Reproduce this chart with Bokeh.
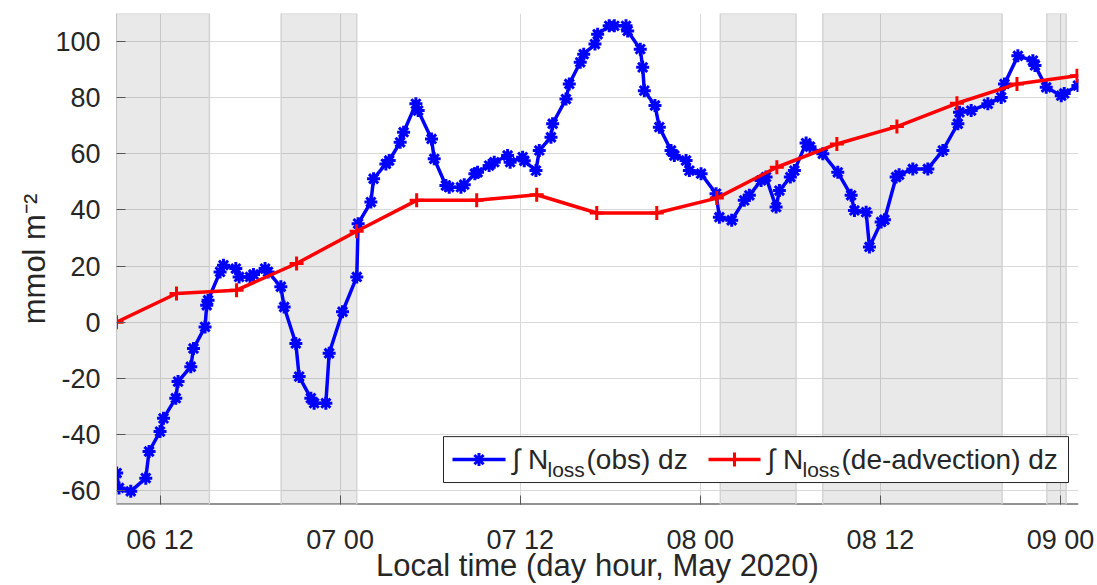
from bokeh.plotting import figure
from bokeh.models import Range1d, FixedTicker, Label
from bokeh.embed import file_html
from bokeh.resources import INLINE

# ---------------- data (hours since 06 May 2020 00:00 local) ----------------
obs_hours = [9.11, 9.27, 10.05, 11.05, 11.27, 12.0, 12.23, 13.05, 13.2, 14.05, 14.23, 15.0, 15.11, 15.2,
             16.0, 16.23, 17.05, 17.27, 18.0, 18.23, 19.0, 19.2, 20.05, 20.27, 21.05, 21.27, 22.05, 22.27,
             23.05, 23.27, 24.16, 25.11, 25.2, 26.05, 26.23, 27.05, 27.27, 28.0, 28.23, 29.05, 29.2, 30.09,
             30.27, 31.05, 31.27, 32.05, 32.27, 32.98, 33.16, 33.93, 34.27, 35.16, 35.33, 36.16, 36.27,
             37.05, 37.27, 38.05, 38.16, 39.05, 39.27, 40.0, 40.23, 40.98, 41.16, 41.93, 42.27, 43.05,
             43.16, 44.0, 44.16, 44.27, 44.98, 45.27, 46.05, 46.27, 47.05, 47.27, 48.05, 49.05, 49.27,
             50.09, 50.93, 51.27, 52.05, 52.38, 53.05, 53.27, 54.0, 54.27, 55.05, 55.31, 56.16, 57.16,
             58.05, 58.27, 59.05, 59.27, 60.05, 60.27, 61.05, 61.25, 62.16, 63.16, 64.16, 65.16, 65.27,
             66.05, 67.16, 68.05, 68.27, 69.16, 70.16, 70.3, 71.05, 72.05, 72.25, 73.16]
obs_values = [-53.8, -59.1, -60.3, -55.6, -46.1, -39.0, -34.3, -27.1, -21.2, -15.9, -9.4, -1.7, 6.0, 7.8,
              17.9, 20.3, 19.1, 16.1, 16.1, 17.0, 19.1, 17.9, 12.6, 5.4, -7.6, -19.4, -27.1, -28.9,
              -28.9, -11.1, 3.7, 16.1, 35.1, 42.8, 51.1, 56.4, 57.6, 64.1, 67.7, 77.8, 75.4, 65.3,
              58.2, 48.7, 48.1, 48.1, 49.0, 52.9, 53.4, 55.8, 57.0, 59.4, 57.0, 58.8, 57.5,
              54.0, 61.2, 65.9, 70.7, 79.5, 84.9, 92.6, 95.5, 99.1, 102.6, 105.6, 105.6, 105.6,
              103.8, 97.3, 90.8, 82.5, 77.2, 69.5, 61.2, 59.4, 57.6, 54.0, 52.9, 45.8, 37.4,
              36.3, 43.4, 45.2, 50.5, 51.7, 41.0, 46.9, 51.7, 54.0, 63.8, 62.5, 60.0, 53.4,
              45.2, 39.8, 39.2, 26.8, 35.7, 36.5, 51.7, 52.5, 54.6, 54.6, 61.2, 70.7, 74.8,
              75.4, 77.8, 80.1, 84.9, 94.9, 93.2, 91.5, 83.7, 80.7, 81.5, 84.3]

adv_hours = [9.1, 13.1, 17.1, 21.1, 25.1, 29.1, 33.1, 37.1, 41.1, 45.1, 49.1, 53.1, 57.1, 61.1,
             65.1, 69.1, 73.1]
adv_values = [0.0, 10.2, 11.4, 20.9, 32.4, 43.4, 43.4, 45.4, 38.9, 38.9, 44.2, 55.2, 63.5, 69.7,
              78.0, 84.9, 87.8]

shade_start = [9.1, 20.07, 49.33, 56.16, 71.09]
shade_end = [15.29, 25.11, 54.38, 68.11, 72.38]

x_tick_hours = [12, 24, 36, 48, 60, 72]
x_tick_labels = ["06 12", "07 00", "07 12", "08 00", "08 12", "09 00"]
y_ticks = [-60, -40, -20, 0, 20, 40, 60, 80, 100]
y_tick_labels = ["-60", "-40", "-20", "0", "20", "40", "60", "80", "100"]

x_title = "Local time (day hour, May 2020)"
y_title = "mmol m\u207b\u00b2"
obs_label = ("\u222b N", "loss", "(obs) dz")
adv_label = ("\u222b N", "loss", "(de-advection) dz")

# ---------------- layout ----------------
W, H = 1097, 585
FL, FR, FT, FB = 116, 1078, 13, 505
X0, X1 = 9.1, 73.2
Y0, Y1 = -65.0, 110.0

def px2x(px):
    return X0 + (px - FL) * (X1 - X0) / (FR - FL)

def py2y(py):
    return Y1 - (py - FT) * (Y1 - Y0) / (FB - FT)

FONT = "Liberation Sans"
TXT = "#262626"

p = figure(width=W, height=H, output_backend="svg", toolbar_location=None,
           x_range=Range1d(X0, X1), y_range=Range1d(Y0, Y1),
           min_border_left=FL, min_border_right=W - FR, min_border_top=FT,
           min_border_bottom=H - FB)
p.outline_line_color = None
p.background_fill_color = "white"
p.border_fill_color = "white"

for ax in (p.xaxis[0], p.yaxis[0]):
    ax.axis_line_width = 1
    ax.major_tick_in = 9
    ax.major_tick_out = 0
    ax.major_tick_line_color = "#555555"
    ax.minor_tick_line_color = None
    ax.major_label_text_font = FONT
    ax.major_label_text_font_size = "27px"
    ax.major_label_text_color = TXT
    ax.axis_label_text_font = FONT
    ax.axis_label_text_font_size = "31px"
    ax.axis_label_text_font_style = "normal"
    ax.axis_label_text_color = TXT

# the bottom spine is drawn as a glyph below the shaded periods (they hide it)
p.xaxis.axis_line_color = None
p.yaxis.axis_line_color = "#c8c8c8"

p.xaxis.ticker = FixedTicker(ticks=x_tick_hours)
p.xaxis.major_label_overrides = {h: s for h, s in zip(x_tick_hours, x_tick_labels)}
p.xaxis.major_label_standoff = 20
p.xaxis.axis_label = x_title
p.xaxis.axis_label_standoff = -10

p.yaxis.ticker = FixedTicker(ticks=y_ticks)
p.yaxis.major_label_overrides = {v: s for v, s in zip(y_ticks, y_tick_labels)}
p.yaxis.major_label_standoff = 16
p.yaxis.axis_label = y_title
p.yaxis.axis_label_standoff = 0

p.xgrid.grid_line_color = "#d9d9d9"
p.ygrid.grid_line_color = "#d9d9d9"
p.xgrid.grid_line_width = 1
p.ygrid.grid_line_width = 1

p.line([X0, X1], [Y0, Y0], line_color=TXT, line_width=2)

# shaded periods
p.quad(left=shade_start, right=shade_end, bottom=Y0, top=Y1,
       fill_color="black", fill_alpha=0.085, line_color="#d2d2d2", line_width=1.4)

# series
p.line(obs_hours, obs_values, line_color="#0000ff", line_width=3.5)
p.scatter(obs_hours, obs_values, marker="asterisk", size=13, line_color="#0000ff", line_width=3)
p.line(adv_hours, adv_values, line_color="#ff0000", line_width=3.5)
p.scatter(adv_hours, adv_values, marker="cross", size=14, line_color="#ff0000", line_width=3)

# legend (custom, to allow subscripts)
LB_L, LB_R, LB_T, LB_B = 443, 1068, 437, 483
row = (LB_T + LB_B) / 2
p.quad(left=[px2x(LB_L)], right=[px2x(LB_R)], top=[py2y(LB_T)], bottom=[py2y(LB_B)],
       fill_color="white", line_color="#262626", line_width=1)

def legend_entry(x_line0, x_line1, x_text, parts, color, marker, msize, sub_dx, rest_dx):
    p.line([px2x(x_line0), px2x(x_line1)], [py2y(row), py2y(row)], line_color=color, line_width=3.5)
    p.scatter([px2x((x_line0 + x_line1) / 2)], [py2y(row)], marker=marker, size=msize,
              line_color=color, line_width=3)
    p.add_layout(Label(x=px2x(x_text), y=py2y(row), text=parts[0], text_font=FONT,
                       text_font_size="28px", text_color=TXT, text_baseline="middle",
                       text_align="left"))
    p.add_layout(Label(x=px2x(x_text + sub_dx), y=py2y(row + 10), text=parts[1], text_font=FONT,
                       text_font_size="21px", text_color=TXT, text_baseline="middle",
                       text_align="left"))
    p.add_layout(Label(x=px2x(x_text + rest_dx), y=py2y(row), text=parts[2], text_font=FONT,
                       text_font_size="28px", text_color=TXT, text_baseline="middle",
                       text_align="left"))

legend_entry(452, 505, 512, obs_label, "#0000ff", "asterisk", 13, 35, 74)
legend_entry(708, 760, 767, adv_label, "#ff0000", "cross", 14, 35, 74)

open("out.html", "w").write(file_html(p, INLINE))
